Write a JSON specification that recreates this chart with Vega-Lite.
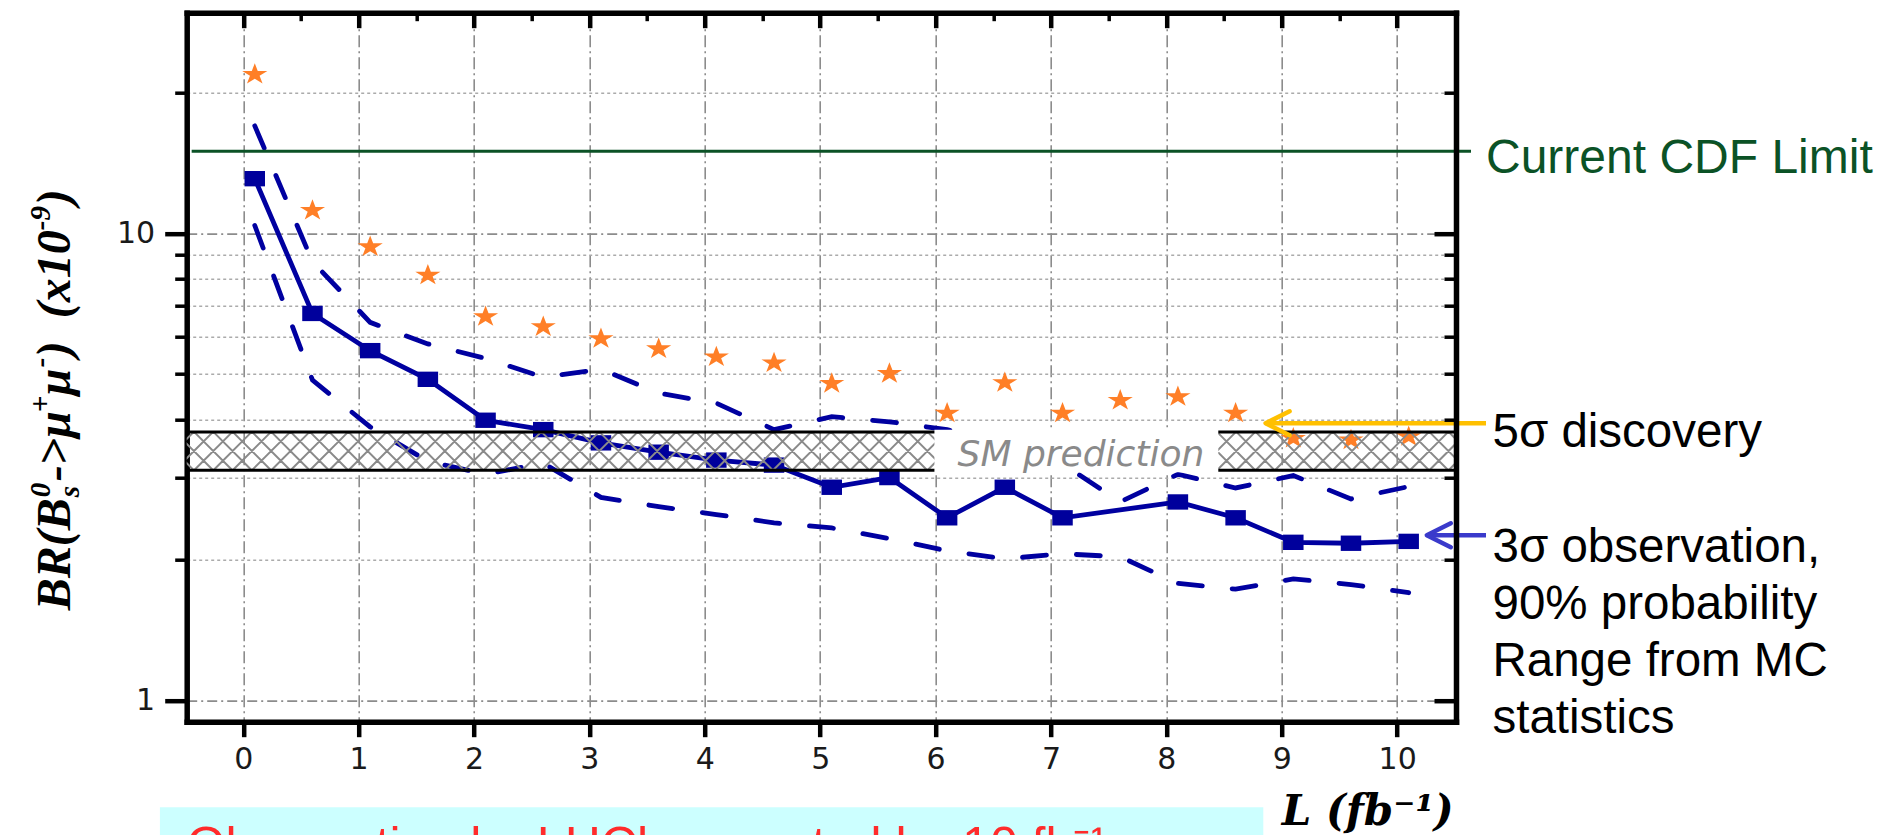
{
  "$schema": "https://vega.github.io/schema/vega-lite/v6.json",
  "autosize": "none",
  "width": 1269.3,
  "height": 709,
  "padding": {"left": 186.7, "top": 12.7, "right": 428, "bottom": 113.3},
  "background": "white",
  "config": {"view": {"stroke": null}},
  "data": {
    "values": [
      {"L": 0.1, "disc": 21.9, "obs": 13.1, "hi": 17.0, "lo": 10.4},
      {"L": 0.6, "disc": 11.2, "obs": 6.74, "hi": 8.7, "lo": 4.85},
      {"L": 1.1, "disc": 9.36, "obs": 5.61, "hi": 6.45, "lo": 3.85},
      {"L": 1.6, "disc": 8.14, "obs": 4.87, "hi": 5.8, "lo": 3.25},
      {"L": 2.1, "disc": 6.63, "obs": 3.98, "hi": 5.4, "lo": 3.05},
      {"L": 2.6, "disc": 6.31, "obs": 3.8, "hi": 4.92, "lo": 3.22},
      {"L": 3.1, "disc": 5.95, "obs": 3.56, "hi": 5.12, "lo": 2.72},
      {"L": 3.6, "disc": 5.66, "obs": 3.4, "hi": 4.55, "lo": 2.6},
      {"L": 4.1, "disc": 5.44, "obs": 3.27, "hi": 4.33, "lo": 2.5},
      {"L": 4.6, "disc": 5.28, "obs": 3.19, "hi": 3.8, "lo": 2.4},
      {"L": 5.1, "disc": 4.77, "obs": 2.86, "hi": 4.05, "lo": 2.34},
      {"L": 5.6, "disc": 5.01, "obs": 3.0, "hi": 3.95, "lo": 2.22},
      {"L": 6.1, "disc": 4.12, "obs": 2.46, "hi": 3.8, "lo": 2.09},
      {"L": 6.6, "disc": 4.79, "obs": 2.86, "hi": 3.55, "lo": 2.01},
      {"L": 7.1, "disc": 4.12, "obs": 2.46, "hi": 3.21, "lo": 2.06},
      {"L": 7.6, "disc": 4.39, "obs": null, "hi": 2.66, "lo": 2.03},
      {"L": 8.1, "disc": 4.47, "obs": 2.66, "hi": 3.05, "lo": 1.78},
      {"L": 8.6, "disc": 4.12, "obs": 2.46, "hi": 2.85, "lo": 1.73},
      {"L": 9.1, "disc": 3.64, "obs": 2.18, "hi": 3.03, "lo": 1.82},
      {"L": 9.6, "disc": 3.61, "obs": 2.17, "hi": 2.7, "lo": 1.77},
      {"L": 10.1, "disc": 3.67, "obs": 2.19, "hi": 2.87, "lo": 1.7}
    ]
  },
  "resolve": {"axis": {"x": "independent", "y": "independent"}},
  "layer": [
    {
      "mark": {"type": "line", "color": "#0000A0", "strokeWidth": 4.8, "strokeDash": [24, 30], "strokeCap": "round"},
      "encoding": {
        "x": {
          "field": "L", "type": "quantitative",
          "scale": {"domain": [-0.49, 10.51], "nice": false, "zero": false},
          "axis": {
            "orient": "bottom", "title": null,
            "values": [0, 0.5, 1, 1.5, 2, 2.5, 3, 3.5, 4, 4.5, 5, 5.5, 6, 6.5, 7, 7.5, 8, 8.5, 9, 9.5, 10],
            "format": "d",
            "labelExpr": "datum.value % 1 === 0 ? datum.label : ''",
            "labelFont": "DejaVu Sans", "labelFontSize": 30, "labelColor": "#1a1a1a", "labelPadding": 8,
            "labelFlush": false, "labelOverlap": false, "labelBound": false,
            "tickColor": "#000",
            "tickSize": {"condition": {"test": "datum.value % 1 === 0", "value": 15}, "value": 9},
            "tickWidth": {"condition": {"test": "datum.value % 1 === 0", "value": 4.5}, "value": 3.5},
            "domain": true, "domainColor": "#000", "domainWidth": 5.5, "domainCap": "square",
            "grid": true,
            "gridColor": {"condition": {"test": "datum.value % 1 === 0", "value": "#8c8c8c"}, "value": "#b4b4b4"},
            "gridDash": {"condition": {"test": "datum.value % 1 === 0", "value": [12, 4, 2, 4]}, "value": [2, 3]},
            "gridWidth": {"condition": {"test": "datum.value % 1 === 0", "value": 1.6}, "value": 1.3}
          }
        },
        "y": {
          "field": "hi", "type": "quantitative",
          "scale": {"type": "log", "domain": [0.9, 29.7], "nice": false},
          "axis": {
            "orient": "left", "title": null,
            "values": [1, 2, 3, 4, 5, 6, 7, 8, 9, 10, 20],
            "format": "d",
            "labelExpr": "datum.value === 1 || datum.value === 10 ? datum.label : ''",
            "labelFont": "DejaVu Sans", "labelFontSize": 30, "labelColor": "#1a1a1a", "labelPadding": 10,
            "labelOverlap": false, "labelBound": false,
            "tickColor": "#000",
            "tickSize": {"condition": {"test": "datum.value === 1 || datum.value === 10", "value": 22}, "value": 12},
            "tickWidth": {"condition": {"test": "datum.value === 1 || datum.value === 10", "value": 4.5}, "value": 3.5},
            "domain": true, "domainColor": "#000", "domainWidth": 5.5, "domainCap": "square",
            "grid": true,
            "gridColor": {"condition": {"test": "datum.value === 1 || datum.value === 10", "value": "#8c8c8c"}, "value": "#ababab"},
            "gridDash": {"condition": {"test": "datum.value === 1 || datum.value === 10", "value": [10, 4, 2, 4]}, "value": [3, 3]},
            "gridWidth": {"condition": {"test": "datum.value === 1 || datum.value === 10", "value": 1.8}, "value": 1.5}
          }
        }
      }
    },
    {
      "mark": {"type": "line", "color": "#0000A0", "strokeWidth": 4.8, "strokeDash": [24, 30], "strokeCap": "round"},
      "encoding": {
        "x": {
          "field": "L", "type": "quantitative",
          "axis": {
            "orient": "top", "title": null, "labels": false,
            "values": [0, 0.5, 1, 1.5, 2, 2.5, 3, 3.5, 4, 4.5, 5, 5.5, 6, 6.5, 7, 7.5, 8, 8.5, 9, 9.5, 10],
            "tickColor": "#000",
            "tickSize": {"condition": {"test": "datum.value % 1 === 0", "value": -15}, "value": -8},
            "tickWidth": {"condition": {"test": "datum.value % 1 === 0", "value": 4.5}, "value": 3.5},
            "domain": true, "domainColor": "#000", "domainWidth": 5.5, "domainCap": "square",
            "grid": false, "zindex": 1
          }
        },
        "y": {
          "field": "lo", "type": "quantitative",
          "axis": {
            "orient": "right", "title": null, "labels": false,
            "values": [1, 2, 3, 4, 5, 6, 7, 8, 9, 10, 20],
            "tickColor": "#000",
            "tickSize": {"condition": {"test": "datum.value === 1 || datum.value === 10", "value": -22}, "value": -12},
            "tickWidth": {"condition": {"test": "datum.value === 1 || datum.value === 10", "value": 4.5}, "value": 3.5},
            "domain": true, "domainColor": "#000", "domainWidth": 5.5, "domainCap": "square",
            "grid": false, "zindex": 1
          }
        }
      }
    },
    {
      "mark": {"type": "line", "color": "#0000A0", "strokeWidth": 4.8, "invalid": "filter"},
      "encoding": {
        "x": {"field": "L", "type": "quantitative", "axis": null},
        "y": {"field": "obs", "type": "quantitative", "axis": null}
      }
    },
    {
      "mark": {"type": "point", "shape": "M-1,-0.75L1,-0.75L1,0.75L-1,0.75Z", "size": 420, "filled": true, "opacity": 1, "color": "#00009C", "invalid": "filter"},
      "encoding": {
        "x": {"field": "L", "type": "quantitative", "axis": null},
        "y": {"field": "obs", "type": "quantitative", "axis": null}
      }
    },
    {
      "mark": {"type": "point", "shape": "M0,-0.85L0.2245,-0.263L0.951,-0.263L0.363,0.1L0.588,0.688L0,0.325L-0.588,0.688L-0.363,0.1L-0.951,-0.263L-0.2245,-0.263Z", "size": 700, "filled": true, "opacity": 1, "color": "#FF7F27"},
      "encoding": {
        "x": {"field": "L", "type": "quantitative", "axis": null},
        "y": {"field": "disc", "type": "quantitative", "axis": null}
      }
    },
    {
      "data": {"values": [{}]},
      "mark": {
        "type": "point", "clip": true, "size": 4, "filled": false, "opacity": 1, "color": "#8a8a8a", "strokeWidth": 2,
        "shape": "M-684,-19.15l38.3,38.3m-19,-38.3l38.3,38.3m-19,-38.3l38.3,38.3m-19,-38.3l38.3,38.3m-19,-38.3l38.3,38.3m-19,-38.3l38.3,38.3m-19,-38.3l38.3,38.3m-19,-38.3l38.3,38.3m-19,-38.3l38.3,38.3m-19,-38.3l38.3,38.3m-19,-38.3l38.3,38.3m-19,-38.3l38.3,38.3m-19,-38.3l38.3,38.3m-19,-38.3l38.3,38.3m-19,-38.3l38.3,38.3m-19,-38.3l38.3,38.3m-19,-38.3l38.3,38.3m-19,-38.3l38.3,38.3m-19,-38.3l38.3,38.3m-19,-38.3l38.3,38.3m-19,-38.3l38.3,38.3m-19,-38.3l38.3,38.3m-19,-38.3l38.3,38.3m-19,-38.3l38.3,38.3m-19,-38.3l38.3,38.3m-19,-38.3l38.3,38.3m-19,-38.3l38.3,38.3m-19,-38.3l38.3,38.3m-19,-38.3l38.3,38.3m-19,-38.3l38.3,38.3m-19,-38.3l38.3,38.3m-19,-38.3l38.3,38.3m-19,-38.3l38.3,38.3m-19,-38.3l38.3,38.3m-19,-38.3l38.3,38.3m-19,-38.3l38.3,38.3m-19,-38.3l38.3,38.3m-19,-38.3l38.3,38.3m-19,-38.3l38.3,38.3m-19,-38.3l38.3,38.3m-19,-38.3l38.3,38.3m-19,-38.3l38.3,38.3m-19,-38.3l38.3,38.3m-19,-38.3l38.3,38.3m-19,-38.3l38.3,38.3m-19,-38.3l38.3,38.3m-19,-38.3l38.3,38.3m-19,-38.3l38.3,38.3m-19,-38.3l38.3,38.3m-19,-38.3l38.3,38.3m-19,-38.3l38.3,38.3m-19,-38.3l38.3,38.3m-19,-38.3l38.3,38.3m-19,-38.3l38.3,38.3m-19,-38.3l38.3,38.3m-19,-38.3l38.3,38.3m-19,-38.3l38.3,38.3m-19,-38.3l38.3,38.3m-19,-38.3l38.3,38.3m-19,-38.3l38.3,38.3m-19,-38.3l38.3,38.3m-19,-38.3l38.3,38.3m-19,-38.3l38.3,38.3m-19,-38.3l38.3,38.3m-19,-38.3l38.3,38.3m-19,-38.3l38.3,38.3m-19,-38.3l38.3,38.3m-19,-38.3l38.3,38.3m-19,-38.3l38.3,38.3m-19,-38.3l38.3,38.3m-19,-38.3l38.3,38.3m-19,-38.3l38.3,38.3m-19,-38.3M-684,19.15l38.3,-38.3m-19,38.3l38.3,-38.3m-19,38.3l38.3,-38.3m-19,38.3l38.3,-38.3m-19,38.3l38.3,-38.3m-19,38.3l38.3,-38.3m-19,38.3l38.3,-38.3m-19,38.3l38.3,-38.3m-19,38.3l38.3,-38.3m-19,38.3l38.3,-38.3m-19,38.3l38.3,-38.3m-19,38.3l38.3,-38.3m-19,38.3l38.3,-38.3m-19,38.3l38.3,-38.3m-19,38.3l38.3,-38.3m-19,38.3l38.3,-38.3m-19,38.3l38.3,-38.3m-19,38.3l38.3,-38.3m-19,38.3l38.3,-38.3m-19,38.3l38.3,-38.3m-19,38.3l38.3,-38.3m-19,38.3l38.3,-38.3m-19,38.3l38.3,-38.3m-19,38.3l38.3,-38.3m-19,38.3l38.3,-38.3m-19,38.3l38.3,-38.3m-19,38.3l38.3,-38.3m-19,38.3l38.3,-38.3m-19,38.3l38.3,-38.3m-19,38.3l38.3,-38.3m-19,38.3l38.3,-38.3m-19,38.3l38.3,-38.3m-19,38.3l38.3,-38.3m-19,38.3l38.3,-38.3m-19,38.3l38.3,-38.3m-19,38.3l38.3,-38.3m-19,38.3l38.3,-38.3m-19,38.3l38.3,-38.3m-19,38.3l38.3,-38.3m-19,38.3l38.3,-38.3m-19,38.3l38.3,-38.3m-19,38.3l38.3,-38.3m-19,38.3l38.3,-38.3m-19,38.3l38.3,-38.3m-19,38.3l38.3,-38.3m-19,38.3l38.3,-38.3m-19,38.3l38.3,-38.3m-19,38.3l38.3,-38.3m-19,38.3l38.3,-38.3m-19,38.3l38.3,-38.3m-19,38.3l38.3,-38.3m-19,38.3l38.3,-38.3m-19,38.3l38.3,-38.3m-19,38.3l38.3,-38.3m-19,38.3l38.3,-38.3m-19,38.3l38.3,-38.3m-19,38.3l38.3,-38.3m-19,38.3l38.3,-38.3m-19,38.3l38.3,-38.3m-19,38.3l38.3,-38.3m-19,38.3l38.3,-38.3m-19,38.3l38.3,-38.3m-19,38.3l38.3,-38.3m-19,38.3l38.3,-38.3m-19,38.3l38.3,-38.3m-19,38.3l38.3,-38.3m-19,38.3l38.3,-38.3m-19,38.3l38.3,-38.3m-19,38.3l38.3,-38.3m-19,38.3l38.3,-38.3m-19,38.3l38.3,-38.3m-19,38.3l38.3,-38.3m-19,38.3l38.3,-38.3m-19,38.3l38.3,-38.3m-19,38.3l38.3,-38.3m-19,38.3"
      },
      "encoding": {
        "x": {"datum": 5, "type": "quantitative", "axis": null},
        "y": {"datum": 3.4196, "type": "quantitative", "axis": null}
      }
    },
    {
      "data": {"values": [{}]},
      "mark": {"type": "rule", "color": "#000", "strokeWidth": 3},
      "encoding": {"y": {"datum": 3.757, "type": "quantitative", "axis": null}}
    },
    {
      "data": {"values": [{}]},
      "mark": {"type": "rule", "color": "#000", "strokeWidth": 3},
      "encoding": {"y": {"datum": 3.11, "type": "quantitative", "axis": null}}
    },
    {
      "data": {"values": [{}]},
      "mark": {"type": "rect", "color": "#ffffff", "opacity": 1},
      "encoding": {
        "x": {"datum": 5.99, "type": "quantitative", "axis": null},
        "x2": {"datum": 8.45},
        "y": {"datum": 3.8, "type": "quantitative", "axis": null},
        "y2": {"datum": 3.08}
      }
    },
    {
      "data": {"values": [{}]},
      "mark": {"type": "text", "text": "SM prediction", "font": "DejaVu Sans", "fontStyle": "italic", "fontSize": 36, "color": "#8a8a8a", "align": "center", "baseline": "alphabetic"},
      "encoding": {
        "x": {"datum": 7.26, "type": "quantitative", "axis": null},
        "y": {"datum": 3.172, "type": "quantitative", "axis": null}
      }
    },
    {
      "data": {"values": [{}]},
      "mark": {"type": "rule", "color": "#0B5226", "strokeWidth": 3},
      "encoding": {
        "x": {"datum": -0.447, "type": "quantitative", "axis": null},
        "x2": {"datum": 10.64},
        "y": {"datum": 15, "type": "quantitative", "axis": null}
      }
    },
    {
      "data": {"values": [{}]},
      "mark": {"type": "text", "text": "Current CDF Limit", "font": "Liberation Sans", "fontSize": 48, "color": "#0B5226", "align": "left", "baseline": "alphabetic"},
      "encoding": {
        "x": {"datum": 10.77, "type": "quantitative", "axis": null},
        "y": {"datum": 13.45, "type": "quantitative", "axis": null}
      }
    },
    {
      "data": {"values": [{}]},
      "mark": {"type": "rule", "color": "#FFC000", "strokeWidth": 4.5},
      "encoding": {
        "x": {"datum": 8.86, "type": "quantitative", "axis": null},
        "x2": {"datum": 10.77},
        "y": {"datum": 3.92, "type": "quantitative", "axis": null}
      }
    },
    {
      "data": {"values": [{}]},
      "mark": {"type": "point", "shape": "M24,-12L0,0L24,12", "size": 4, "filled": false, "opacity": 1, "color": "#FFC000", "strokeWidth": 4.5, "strokeCap": "round", "strokeJoin": "round"},
      "encoding": {
        "x": {"datum": 8.86, "type": "quantitative", "axis": null},
        "y": {"datum": 3.92, "type": "quantitative", "axis": null}
      }
    },
    {
      "data": {"values": [{}]},
      "mark": {"type": "rule", "color": "#3A3ACB", "strokeWidth": 4.5},
      "encoding": {
        "x": {"datum": 10.257, "type": "quantitative", "axis": null},
        "x2": {"datum": 10.77},
        "y": {"datum": 2.257, "type": "quantitative", "axis": null}
      }
    },
    {
      "data": {"values": [{}]},
      "mark": {"type": "point", "shape": "M24,-12L0,0L24,12", "size": 4, "filled": false, "opacity": 1, "color": "#3A3ACB", "strokeWidth": 4.5, "strokeCap": "round", "strokeJoin": "round"},
      "encoding": {
        "x": {"datum": 10.257, "type": "quantitative", "axis": null},
        "y": {"datum": 2.257, "type": "quantitative", "axis": null}
      }
    },
    {
      "data": {"values": [{}]},
      "mark": {"type": "text", "text": "5σ discovery", "font": "Liberation Sans", "fontSize": 47.5, "color": "#000", "align": "left", "baseline": "alphabetic"},
      "encoding": {
        "x": {"datum": 10.826, "type": "quantitative", "axis": null},
        "y": {"datum": 3.489, "type": "quantitative", "axis": null}
      }
    },
    {
      "data": {"values": [{}]},
      "mark": {"type": "text", "text": ["3σ observation,", "90% probability", "Range from MC", "statistics"], "lineHeight": 57, "font": "Liberation Sans", "fontSize": 47.5, "color": "#000", "align": "left", "baseline": "alphabetic"},
      "encoding": {
        "x": {"datum": 10.826, "type": "quantitative", "axis": null},
        "y": {"datum": 1.978, "type": "quantitative", "axis": null}
      }
    },
    {
      "data": {"values": [{}]},
      "mark": {"type": "rect", "color": "#CCFFFF", "opacity": 1},
      "encoding": {
        "x": {"datum": -0.722, "type": "quantitative", "axis": null},
        "x2": {"datum": 8.84},
        "y": {"datum": 0.5905, "type": "quantitative", "axis": null},
        "y2": {"datum": 0.4}
      }
    },
    {
      "data": {"values": [{}]},
      "mark": {"type": "text", "text": "Observation by LHCb expected by 10 fb⁻¹", "font": "Liberation Sans", "fontSize": 50, "color": "#FF2B2B", "align": "left", "baseline": "alphabetic"},
      "encoding": {
        "x": {"datum": -0.49, "type": "quantitative", "axis": null},
        "y": {"datum": 0.4497, "type": "quantitative", "axis": null}
      }
    },
    {
      "data": {"values": [{}]},
      "mark": {"type": "text", "text": "L (fb⁻¹)", "font": "DejaVu Serif", "fontStyle": "italic", "fontWeight": "bold", "fontSize": 42, "color": "#000", "align": "left", "baseline": "alphabetic"},
      "encoding": {
        "x": {"datum": 9.0, "type": "quantitative", "axis": null},
        "y": {"datum": 0.5398, "type": "quantitative", "axis": null}
      }
    },
    {
      "data": {"values": [{}]},
      "mark": {"type": "text", "text": "BR(B", "angle": 270, "dx": 0, "font": "Liberation Serif", "fontStyle": "italic", "fontWeight": "bold", "fontSize": 48, "color": "#000", "align": "left", "baseline": "alphabetic"},
      "encoding": {"x": {"datum": -1.5, "type": "quantitative", "axis": null}, "y": {"datum": 1.56, "type": "quantitative", "axis": null}}
    },
    {
      "data": {"values": [{}]},
      "mark": {"type": "text", "text": "0", "angle": 270, "dx": 113, "dy": -20, "font": "Liberation Serif", "fontStyle": "italic", "fontWeight": "bold", "fontSize": 29, "color": "#000", "align": "left", "baseline": "alphabetic"},
      "encoding": {"x": {"datum": -1.5, "type": "quantitative", "axis": null}, "y": {"datum": 1.56, "type": "quantitative", "axis": null}}
    },
    {
      "data": {"values": [{}]},
      "mark": {"type": "text", "text": "s", "angle": 270, "dx": 113, "dy": 9, "font": "Liberation Serif", "fontStyle": "italic", "fontWeight": "bold", "fontSize": 29, "color": "#000", "align": "left", "baseline": "alphabetic"},
      "encoding": {"x": {"datum": -1.5, "type": "quantitative", "axis": null}, "y": {"datum": 1.56, "type": "quantitative", "axis": null}}
    },
    {
      "data": {"values": [{}]},
      "mark": {"type": "text", "text": "->μ", "angle": 270, "dx": 129, "font": "Liberation Serif", "fontStyle": "italic", "fontWeight": "bold", "fontSize": 48, "color": "#000", "align": "left", "baseline": "alphabetic"},
      "encoding": {"x": {"datum": -1.5, "type": "quantitative", "axis": null}, "y": {"datum": 1.56, "type": "quantitative", "axis": null}}
    },
    {
      "data": {"values": [{}]},
      "mark": {"type": "text", "text": "+", "angle": 270, "dx": 198, "dy": -20, "font": "Liberation Serif", "fontStyle": "italic", "fontWeight": "bold", "fontSize": 29, "color": "#000", "align": "left", "baseline": "alphabetic"},
      "encoding": {"x": {"datum": -1.5, "type": "quantitative", "axis": null}, "y": {"datum": 1.56, "type": "quantitative", "axis": null}}
    },
    {
      "data": {"values": [{}]},
      "mark": {"type": "text", "text": "μ", "angle": 270, "dx": 215, "font": "Liberation Serif", "fontStyle": "italic", "fontWeight": "bold", "fontSize": 48, "color": "#000", "align": "left", "baseline": "alphabetic"},
      "encoding": {"x": {"datum": -1.5, "type": "quantitative", "axis": null}, "y": {"datum": 1.56, "type": "quantitative", "axis": null}}
    },
    {
      "data": {"values": [{}]},
      "mark": {"type": "text", "text": "-", "angle": 270, "dx": 243, "dy": -20, "font": "Liberation Serif", "fontStyle": "italic", "fontWeight": "bold", "fontSize": 29, "color": "#000", "align": "left", "baseline": "alphabetic"},
      "encoding": {"x": {"datum": -1.5, "type": "quantitative", "axis": null}, "y": {"datum": 1.56, "type": "quantitative", "axis": null}}
    },
    {
      "data": {"values": [{}]},
      "mark": {"type": "text", "text": ")", "angle": 270, "dx": 253, "font": "Liberation Serif", "fontStyle": "italic", "fontWeight": "bold", "fontSize": 48, "color": "#000", "align": "left", "baseline": "alphabetic"},
      "encoding": {"x": {"datum": -1.5, "type": "quantitative", "axis": null}, "y": {"datum": 1.56, "type": "quantitative", "axis": null}}
    },
    {
      "data": {"values": [{}]},
      "mark": {"type": "text", "text": "(x10", "angle": 270, "dx": 292, "font": "Liberation Serif", "fontStyle": "italic", "fontWeight": "bold", "fontSize": 48, "color": "#000", "align": "left", "baseline": "alphabetic"},
      "encoding": {"x": {"datum": -1.5, "type": "quantitative", "axis": null}, "y": {"datum": 1.56, "type": "quantitative", "axis": null}}
    },
    {
      "data": {"values": [{}]},
      "mark": {"type": "text", "text": "-9", "angle": 270, "dx": 380, "dy": -20, "font": "Liberation Serif", "fontStyle": "italic", "fontWeight": "bold", "fontSize": 29, "color": "#000", "align": "left", "baseline": "alphabetic"},
      "encoding": {"x": {"datum": -1.5, "type": "quantitative", "axis": null}, "y": {"datum": 1.56, "type": "quantitative", "axis": null}}
    },
    {
      "data": {"values": [{}]},
      "mark": {"type": "text", "text": ")", "angle": 270, "dx": 405, "font": "Liberation Serif", "fontStyle": "italic", "fontWeight": "bold", "fontSize": 48, "color": "#000", "align": "left", "baseline": "alphabetic"},
      "encoding": {"x": {"datum": -1.5, "type": "quantitative", "axis": null}, "y": {"datum": 1.56, "type": "quantitative", "axis": null}}
    }
  ]
}
